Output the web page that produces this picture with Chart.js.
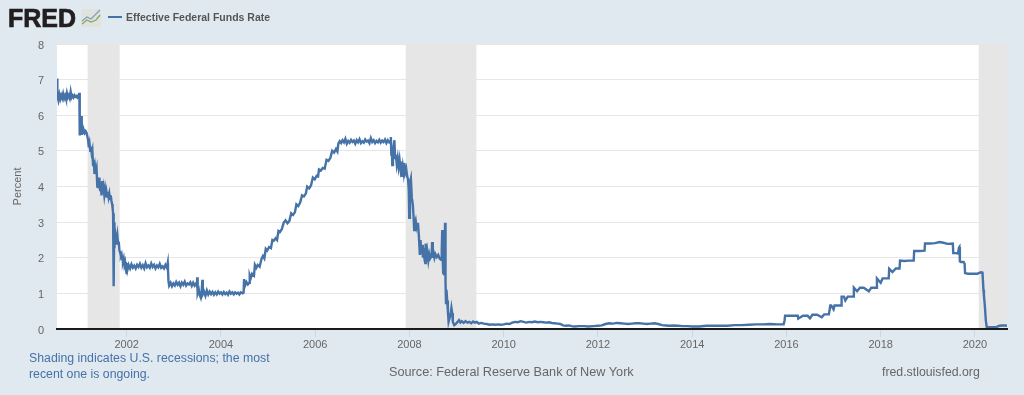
<!DOCTYPE html>
<html lang="en">
<head>
<meta charset="UTF-8">
<title>Effective Federal Funds Rate</title>
<style>
  html, body { margin: 0; padding: 0; background: #e1e9f0; overflow: hidden; }
  body { width: 1024px; height: 395px; position: relative; font-family: "Liberation Sans", Arial, sans-serif; }
  canvas { position: absolute; left: 0; top: 0; }
  .txt { position: absolute; white-space: nowrap; }
  #logo { left: 8px; top: 4px; font-size: 25px; line-height: 28px; font-weight: bold; color: #231f20; -webkit-text-stroke: 0.7px #231f20; }
  #icon { position: absolute; left: 81px; top: 9px; }
  #dash { position: absolute; left: 108px; top: 16px; width: 14px; height: 2px; background: #4572a7; }
  #legend { left: 126px; top: 11px; font-size: 10.5px; line-height: 13px; font-weight: bold; color: #555; }
  #note { left: 29px; top: 350px; font-size: 12.3px; line-height: 16px; color: #4572a7; }
  #source { left: 389px; top: 365px; font-size: 12.7px; line-height: 15px; color: #666; }
  #site { left: 882px; top: 365px; font-size: 12.3px; line-height: 15px; color: #666; }
</style>
</head>
<body>
<canvas id="chart" width="1024" height="395"></canvas>
<div class="txt" id="logo">FRED</div>
<svg id="icon" width="20" height="18" viewBox="0 0 20 18">
  <rect width="20" height="18" rx="2" fill="#dfe2de"/>
  <polyline points="1,12 6,8 10,10 15,5 19,1" fill="none" stroke="#7f9fc0" stroke-width="1.3"/>
  <polyline points="1,15 6,11 10,13 15,11 19,6" fill="none" stroke="#8aa85e" stroke-width="1.3"/>
</svg>
<div id="dash"></div>
<div class="txt" id="legend">Effective Federal Funds Rate</div>
<div class="txt" id="note">Shading indicates U.S. recessions; the most<br>recent one is ongoing.</div>
<div class="txt" id="source">Source: Federal Reserve Bank of New York</div>
<div class="txt" id="site">fred.stlouisfed.org</div>

<script src="https://cdn.jsdelivr.net/npm/chart.js"></script>
<script>
  const tickYears = [2002, 2004, 2006, 2008, 2010, 2012, 2014, 2016, 2018, 2020];
  const recessionStarts = [2001.17, 2007.92, 2020.08];
  const recessionEnds = [2001.85, 2009.42, 2020.68];

  // one row of years goes with the same row of rates
  const years = [
    2000.52, 2000.525, 2000.53, 2000.55, 2000.57, 2000.59, 2000.61, 2000.63, 2000.65, 2000.67,
    2000.69, 2000.71, 2000.73, 2000.75, 2000.77, 2000.79, 2000.81, 2000.83, 2000.85, 2000.87,
    2000.89, 2000.91, 2000.93, 2000.95, 2000.97, 2000.985, 2000.995, 2001.0, 2001.005, 2001.02,
    2001.03, 2001.045, 2001.06, 2001.075, 2001.09, 2001.11, 2001.13, 2001.15, 2001.165, 2001.18,
    2001.195, 2001.21, 2001.225, 2001.24, 2001.255, 2001.27, 2001.285, 2001.30, 2001.315, 2001.33,
    2001.345, 2001.36, 2001.375, 2001.39, 2001.405, 2001.42, 2001.435, 2001.45, 2001.465, 2001.48,
    2001.495, 2001.51, 2001.525, 2001.54, 2001.555, 2001.57, 2001.585, 2001.60, 2001.615, 2001.63,
    2001.645, 2001.66, 2001.675, 2001.69, 2001.70, 2001.71, 2001.72, 2001.725, 2001.73, 2001.735,
    2001.745, 2001.76, 2001.775, 2001.79, 2001.80, 2001.815, 2001.83, 2001.845, 2001.86, 2001.875,
    2001.89, 2001.905, 2001.92, 2001.935, 2001.95, 2001.965, 2001.98, 2001.995, 2002.0, 2002.015,
    2002.04, 2002.07, 2002.10, 2002.13, 2002.16, 2002.19, 2002.22, 2002.25, 2002.28, 2002.31,
    2002.34, 2002.37, 2002.40, 2002.43, 2002.46, 2002.49, 2002.52, 2002.55, 2002.58, 2002.61,
    2002.64, 2002.67, 2002.70, 2002.73, 2002.76, 2002.79, 2002.82, 2002.85, 2002.87, 2002.875,
    2002.885, 2002.90, 2002.93, 2002.96, 2002.99, 2003.02, 2003.05, 2003.08, 2003.11, 2003.14,
    2003.17, 2003.20, 2003.23, 2003.26, 2003.29, 2003.32, 2003.35, 2003.38, 2003.41, 2003.44,
    2003.47, 2003.49, 2003.495, 2003.50, 2003.51, 2003.53, 2003.55, 2003.57, 2003.59, 2003.605,
    2003.615, 2003.64, 2003.67, 2003.70, 2003.73, 2003.76, 2003.79, 2003.82, 2003.85, 2003.88,
    2003.91, 2003.94, 2003.97, 2004.0, 2004.03, 2004.06, 2004.09, 2004.12, 2004.15, 2004.18,
    2004.21, 2004.24, 2004.27, 2004.30, 2004.33, 2004.36, 2004.39, 2004.42, 2004.46, 2004.48,
    2004.49, 2004.51, 2004.54, 2004.57, 2004.60, 2004.61, 2004.63, 2004.66, 2004.70, 2004.72,
    2004.75, 2004.78, 2004.82, 2004.86, 2004.89, 2004.92, 2004.95, 2004.98, 2005.02, 2005.06,
    2005.09, 2005.12, 2005.16, 2005.19, 2005.22, 2005.25, 2005.29, 2005.33, 2005.37, 2005.41,
    2005.45, 2005.49, 2005.53, 2005.57, 2005.60, 2005.64, 2005.68, 2005.72, 2005.76, 2005.80,
    2005.83, 2005.87, 2005.91, 2005.95, 2005.99, 2006.03, 2006.06, 2006.08, 2006.12, 2006.16,
    2006.20, 2006.24, 2006.28, 2006.32, 2006.36, 2006.40, 2006.44, 2006.47, 2006.49, 2006.52,
    2006.55, 2006.58, 2006.61, 2006.64, 2006.67, 2006.70, 2006.73, 2006.76, 2006.79, 2006.82,
    2006.85, 2006.88, 2006.91, 2006.94, 2006.97, 2007.0, 2007.03, 2007.06, 2007.09, 2007.12,
    2007.15, 2007.18, 2007.21, 2007.24, 2007.27, 2007.30, 2007.33, 2007.36, 2007.39, 2007.42,
    2007.45, 2007.48, 2007.51, 2007.54, 2007.57, 2007.595, 2007.605, 2007.615, 2007.625, 2007.635,
    2007.65, 2007.68, 2007.695, 2007.71, 2007.73, 2007.75, 2007.77, 2007.79, 2007.81, 2007.83,
    2007.84, 2007.86, 2007.875, 2007.89, 2007.91, 2007.93, 2007.95, 2007.97, 2007.985, 2007.995,
    2008.01, 2008.03, 2008.05, 2008.07, 2008.085, 2008.10, 2008.115, 2008.13, 2008.15, 2008.165,
    2008.18, 2008.20, 2008.22, 2008.235, 2008.25, 2008.27, 2008.285, 2008.30, 2008.32, 2008.335,
    2008.345, 2008.36, 2008.38, 2008.40, 2008.42, 2008.44, 2008.47, 2008.48, 2008.495, 2008.51,
    2008.53, 2008.55, 2008.58, 2008.61, 2008.64, 2008.67, 2008.685, 2008.695, 2008.705, 2008.715,
    2008.73, 2008.74, 2008.755, 2008.765, 2008.775, 2008.785, 2008.80, 2008.815, 2008.83, 2008.85,
    2008.87, 2008.89, 2008.905, 2008.92, 2008.95, 2008.98, 2009.02, 2009.05, 2009.08, 2009.11,
    2009.15, 2009.19, 2009.23, 2009.27, 2009.31, 2009.35, 2009.39, 2009.43, 2009.47, 2009.52,
    2009.58, 2009.64, 2009.70, 2009.76, 2009.82, 2009.88, 2009.94, 2010.0, 2010.06, 2010.12,
    2010.18, 2010.24, 2010.30, 2010.36, 2010.42, 2010.48, 2010.54, 2010.60, 2010.66, 2010.72,
    2010.78, 2010.84, 2010.90, 2010.96, 2011.02, 2011.08, 2011.14, 2011.20, 2011.26, 2011.32,
    2011.38, 2011.44, 2011.50, 2011.60, 2011.70, 2011.80, 2011.90, 2012.0, 2012.08, 2012.16,
    2012.24, 2012.32, 2012.40, 2012.48, 2012.56, 2012.64, 2012.72, 2012.80, 2012.88, 2012.96,
    2013.04, 2013.12, 2013.20, 2013.28, 2013.36, 2013.44, 2013.52, 2013.60, 2013.70, 2013.80,
    2013.90, 2014.0, 2014.15, 2014.30, 2014.45, 2014.60, 2014.75, 2014.90, 2015.05, 2015.20,
    2015.35, 2015.50, 2015.65, 2015.80, 2015.94, 2015.96, 2015.97, 2016.05, 2016.15, 2016.24,
    2016.25, 2016.35, 2016.45, 2016.499, 2016.55, 2016.65, 2016.749, 2016.80, 2016.90, 2016.93,
    2016.95, 2016.999, 2017.02, 2017.10, 2017.16, 2017.17, 2017.22, 2017.249, 2017.30, 2017.42,
    2017.43, 2017.499, 2017.56, 2017.64, 2017.749, 2017.80, 2017.91, 2017.92, 2017.999, 2018.04,
    2018.10, 2018.17, 2018.18, 2018.25, 2018.32, 2018.40, 2018.41, 2018.50, 2018.60, 2018.70,
    2018.71, 2018.80, 2018.93, 2018.94, 2019.05, 2019.15, 2019.25, 2019.33, 2019.42, 2019.53,
    2019.54, 2019.58, 2019.64, 2019.66, 2019.67, 2019.68, 2019.70, 2019.76, 2019.78, 2019.79,
    2019.85, 2019.95, 2020.05, 2020.10, 2020.14, 2020.16, 2020.18, 2020.19, 2020.21, 2020.23,
    2020.25, 2020.30, 2020.38, 2020.46, 2020.52, 2020.58, 2020.64, 2020.68
  ];
  const rates = [
    7.03, 6.45, 6.55, 6.42, 6.58, 6.46, 6.56, 6.48, 6.6, 6.47,
    6.55, 6.46, 6.62, 6.5, 6.56, 6.48, 6.66, 6.5, 6.55, 6.5,
    6.56, 6.52, 6.54, 6.5, 6.55, 6.5, 6.63, 5.43, 6.0, 5.6,
    5.98, 5.45, 5.7, 5.5, 5.58, 5.5, 5.55, 5.5, 5.4, 5.3,
    5.1, 5.2, 5.0, 5.12, 4.95, 5.03, 4.6, 4.75, 4.35, 4.55,
    4.4, 4.5, 4.0, 4.2, 3.95, 4.25, 3.9, 4.05, 3.75, 4.15,
    3.8, 3.95, 3.75, 3.9, 3.7, 3.85, 3.72, 3.85, 3.7, 3.8,
    3.65, 3.75, 3.6, 3.5, 3.4, 3.25, 2.5, 1.2, 2.3, 3.0,
    2.45, 2.6, 2.4, 2.55, 2.64, 2.4, 2.45, 2.2, 2.15, 2.05,
    2.1, 1.95, 1.9, 1.98, 1.8, 1.88, 1.72, 1.57, 1.85, 1.66,
    1.8, 1.7, 1.82, 1.72, 1.78, 1.7, 1.8, 1.74, 1.83, 1.72,
    1.79, 1.7, 1.85, 1.73, 1.78, 1.72, 1.84, 1.74, 1.8, 1.7,
    1.78, 1.73, 1.83, 1.72, 1.76, 1.7, 1.8, 1.72, 1.86, 1.7,
    1.35, 1.22, 1.3, 1.2, 1.28, 1.22, 1.32, 1.24, 1.3, 1.2,
    1.3, 1.24, 1.33, 1.22, 1.28, 1.25, 1.31, 1.21, 1.3, 1.22,
    1.28, 1.2, 1.45, 1.1, 1.0, 1.1, 0.95, 0.88, 1.05, 1.38,
    0.98, 1.05, 0.93, 1.08, 0.97, 1.05, 0.98, 1.04, 0.96, 1.03,
    0.97, 1.05, 0.99, 1.03, 0.97, 1.04, 0.98, 1.02, 0.96, 1.05,
    0.99, 1.03, 0.97, 1.03, 0.99, 1.02, 0.97, 1.03, 1.0, 1.02,
    1.4, 1.22, 1.32, 1.25, 1.3, 1.5, 1.42, 1.55, 1.5, 1.8,
    1.72, 1.8, 1.75, 1.97, 2.05, 1.98, 2.25, 2.2, 2.3, 2.27,
    2.5, 2.48, 2.55, 2.5, 2.75, 2.72, 2.8, 2.98, 3.05, 2.97,
    3.03, 3.25, 3.2, 3.28, 3.5, 3.45, 3.55, 3.75, 3.72, 3.8,
    4.0, 3.95, 4.03, 4.25, 4.2, 4.3, 4.28, 4.48, 4.45, 4.52,
    4.5, 4.75, 4.72, 4.8, 5.0, 4.95, 5.05, 4.98, 5.2, 5.27,
    5.22, 5.3, 5.24, 5.34, 5.2, 5.28, 5.23, 5.31, 5.25, 5.29,
    5.2, 5.3, 5.24, 5.33, 5.22, 5.27, 5.23, 5.32, 5.26, 5.29,
    5.22, 5.36, 5.25, 5.3, 5.22, 5.28, 5.24, 5.31, 5.23, 5.29,
    5.25, 5.32, 5.22, 5.3, 5.24, 5.28, 5.39, 4.9, 5.1, 4.6,
    5.0, 5.3, 4.8, 4.89, 4.62, 4.8, 4.55, 4.75, 4.5, 4.7,
    4.27, 4.55, 4.4, 4.66, 4.4, 4.5, 4.29, 4.2, 3.9, 3.12,
    4.1, 4.22, 3.68, 3.5, 3.2, 2.78, 3.0, 3.06, 2.85, 2.92,
    2.98, 2.6, 2.08, 2.5, 2.1, 2.36, 2.0, 2.28, 1.95, 1.85,
    2.4, 1.9, 2.15, 1.92, 2.1, 1.98, 2.05, 2.44, 2.0, 2.15,
    2.0, 2.1, 2.02, 2.08, 1.98, 1.94, 2.2, 2.78, 2.0, 1.57,
    1.9, 1.5, 2.98, 1.3, 0.73, 1.1, 0.8, 0.5, 0.2, 0.3,
    0.4, 0.59, 0.45, 0.2, 0.11, 0.14, 0.2, 0.25, 0.18, 0.22,
    0.17, 0.22, 0.18, 0.2, 0.16, 0.21, 0.18, 0.2, 0.15, 0.17,
    0.15, 0.14, 0.12, 0.13, 0.12, 0.13, 0.12, 0.13, 0.15, 0.14,
    0.18, 0.2, 0.19, 0.22, 0.2, 0.18, 0.2, 0.19, 0.21, 0.19,
    0.2, 0.19, 0.18, 0.19, 0.17, 0.16, 0.15, 0.14, 0.1, 0.09,
    0.1, 0.08, 0.07, 0.08, 0.08, 0.07, 0.08, 0.09, 0.1, 0.14,
    0.16, 0.15, 0.17, 0.16, 0.15, 0.14, 0.15, 0.16, 0.16, 0.15,
    0.14, 0.15, 0.16, 0.14, 0.11, 0.1, 0.09, 0.1, 0.09, 0.08,
    0.08, 0.07, 0.07, 0.09, 0.09, 0.09, 0.09, 0.11, 0.11, 0.12,
    0.13, 0.13, 0.14, 0.13, 0.13, 0.24, 0.37, 0.37, 0.37, 0.37,
    0.29, 0.37, 0.37, 0.3, 0.4, 0.4, 0.33, 0.41, 0.41, 0.66,
    0.66, 0.55, 0.66, 0.66, 0.66, 0.91, 0.91, 0.8, 0.91, 0.91,
    1.16, 1.06, 1.16, 1.16, 1.06, 1.16, 1.16, 1.42, 1.3, 1.42,
    1.42, 1.42, 1.69, 1.6, 1.7, 1.7, 1.92, 1.91, 1.92, 1.92,
    2.19, 2.19, 2.2, 2.4, 2.4, 2.41, 2.44, 2.42, 2.39, 2.4,
    2.13, 2.13, 2.12, 2.28, 2.3, 1.9, 1.88, 1.88, 1.83, 1.57,
    1.55, 1.55, 1.55, 1.58, 1.59, 1.58, 1.1, 0.95, 0.65, 0.25,
    0.05, 0.05, 0.05, 0.06, 0.09, 0.1, 0.1, 0.09
  ];

  // white plot background goes under the grid, recession bands over it
  const plotBackdrop = {
    id: 'plotBackdrop',
    beforeDraw(chart) {
      const a = chart.chartArea;
      chart.ctx.save();
      chart.ctx.fillStyle = '#ffffff';
      chart.ctx.fillRect(a.left, a.top, a.width, a.height);
      chart.ctx.restore();
    },
    beforeDatasetsDraw(chart) {
      const a = chart.chartArea;
      const x = chart.scales.x;
      chart.ctx.save();
      chart.ctx.fillStyle = '#e6e6e6';
      recessionStarts.forEach((start, i) => {
        const left = x.getPixelForValue(start);
        chart.ctx.fillRect(left, a.top, x.getPixelForValue(recessionEnds[i]) - left, a.height);
      });
      chart.ctx.restore();
    }
  };

  new Chart(document.getElementById('chart'), {
    type: 'line',
    data: {
      datasets: [{
        label: 'Effective Federal Funds Rate',
        data: years.map((y, i) => ({ x: y, y: rates[i] })),
        borderColor: '#4572a7',
        borderWidth: 2.4,
        pointRadius: 0,
        tension: 0,
        fill: false
      }]
    },
    options: {
      responsive: false,
      animation: false,
      layout: { padding: { top: 44, right: 17, left: 0, bottom: 0 } },
      plugins: { legend: { display: false }, tooltip: { enabled: false } },
      scales: {
        x: {
          type: 'linear',
          min: 2000.52,
          max: 2020.68,
          afterBuildTicks(axis) { axis.ticks = tickYears.map(v => ({ value: v })); },
          afterFit(axis) { axis.height = 66; },
          grid: { drawOnChartArea: false, color: '#ccd6eb', tickLength: 8 },
          border: { color: '#1a1a1a', width: 2, z: 1 },
          ticks: {
            autoSkip: false,
            maxRotation: 0,
            padding: 1,
            color: '#666666',
            font: { family: '"Liberation Sans", Arial, sans-serif', size: 11 },
            callback: v => String(v)
          }
        },
        y: {
          min: 0,
          max: 8,
          afterFit(axis) { axis.width = 57; },
          grid: { color: '#e6e6e6', drawTicks: false },
          border: { display: false },
          ticks: {
            stepSize: 1,
            padding: 13,
            labelOffset: 1.5,
            color: '#666666',
            font: { family: '"Liberation Sans", Arial, sans-serif', size: 11 }
          },
          title: {
            display: true,
            text: 'Percent',
            color: '#666666',
            padding: { top: 11, bottom: 0 },
            font: { family: '"Liberation Sans", Arial, sans-serif', size: 11 }
          }
        }
      }
    },
    plugins: [plotBackdrop]
  });
</script>
</body>
</html>
